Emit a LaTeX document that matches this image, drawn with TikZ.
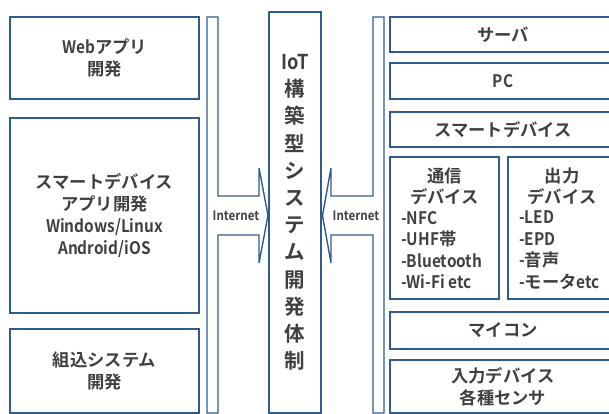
\documentclass[tikz,border=0pt]{standalone}
\usepackage{fontspec}
\setmainfont{Noto Sans CJK JP}[BoldFont={Noto Sans CJK JP Bold}]
\newfontface\latf{Noto Sans CJK JP Bold}[FakeStretch=0.89]
\newcommand{\lt}[1]{{\latf #1}}
\definecolor{ln}{HTML}{2F5C8F}
\definecolor{tx}{HTML}{404040}
\tikzset{
  box/.style={draw=ln, line width=1.4pt, inner sep=0pt, align=center, text=tx,
    font=\bfseries\fontsize{17.3}{22}\selectfont},
  txt/.style={inner sep=0pt, text=tx, font=\bfseries\fontsize{17.3}{21.5}\selectfont},
  arrshape/.style={draw=ln, line width=1.4pt, line join=miter},
  netlbl/.style={inner sep=0pt, text=tx, font=\latf\fontsize{13}{16}\selectfont}
}
\begin{document}
\begin{tikzpicture}[x=1pt,y=-1pt]
\useasboundingbox (0,0) rectangle (609,414);
\clip (0,0) rectangle (609,414);
% left boxes
\node[box, minimum width=189pt, minimum height=82pt] (web) at (104.5,58) {\lt{Web}アプリ\\開発};
\node[box, minimum width=189pt, minimum height=195pt] (sma) at (104.5,215.5) {スマートデバイス\\アプリ開発\\\lt{Windows/Linux}\\\lt{Android/iOS}};
\node[box, minimum width=189pt, minimum height=84pt] (emb) at (104.5,371) {組込システム\\開発};
% left arrow shape
\draw[arrshape] (207,17) -- (218,17) -- (218,196) -- (259,196) -- (259,168) -- (268,215.5)
  -- (259,263) -- (259,235) -- (218,235) -- (218,413) -- (207,413) -- cycle;
\node[netlbl] (netL) at (236,215.5) {Internet};
% center
\node[box, minimum width=52pt, minimum height=401pt, font=\bfseries\fontsize{20.5}{27.2}\selectfont] (iot) at (295,212.5)
  {\lt{IoT}\\構\\築\\型\\シ\\ス\\テ\\ム\\開\\発\\体\\制};
% right arrow shape
\draw[arrshape] (384,17) -- (373,17) -- (373,196) -- (331,196) -- (331,168) -- (322.5,215.5)
  -- (331,263) -- (331,235) -- (373,235) -- (373,413) -- (384,413) -- cycle;
\node[netlbl] (netR) at (356,215.5) {Internet};
% right boxes
\node[box, minimum width=226pt, minimum height=35pt] (srv) at (503,34.5) {サーバ};
\node[box, minimum width=226pt, minimum height=36pt] (pc) at (503,81) {\lt{PC}};
\node[box, minimum width=226pt, minimum height=35pt] (sd) at (503,129.5) {スマートデバイス};
\node[box, minimum width=109pt, minimum height=142pt] (com) at (444.5,228) {};
\node[box, minimum width=108pt, minimum height=142pt] (out) at (562,228) {};
\node[box, minimum width=226pt, minimum height=37pt] (mc) at (503,330.5) {マイコン};
\node[box, minimum width=226pt, minimum height=53pt] (inp) at (503,386.5) {入力デバイス\\各種センサ};
% comm text
\node[txt, align=center] (comT) at (444.5,186.5) {通信\\デバイス};
\node[txt, align=left, anchor=west] (comL) at (401,250) {\lt{-NFC}\\\lt{-UHF}帯\\\lt{-Bluetooth}\\\lt{-Wi-Fi etc}};
% output text
\node[txt, align=center] (outT) at (562,186.5) {出力\\デバイス};
\node[txt, align=left, anchor=west] (outL) at (519,250) {\lt{-LED}\\\lt{-EPD}\\\lt{-}音声\\\lt{-}モータ\lt{etc}};
\end{tikzpicture}
\end{document}
